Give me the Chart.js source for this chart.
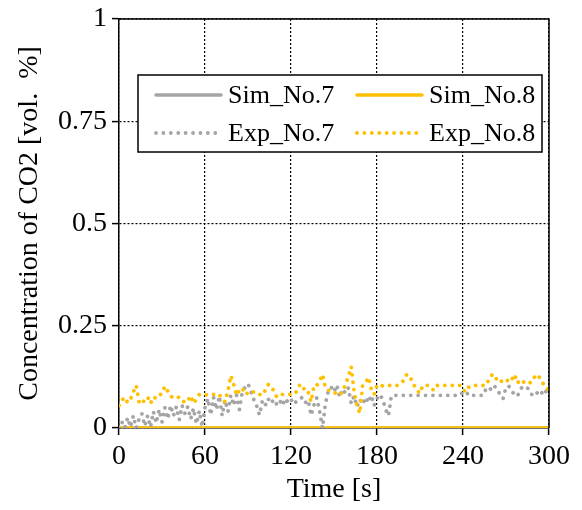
<!DOCTYPE html>
<html>
<head>
<meta charset="utf-8">
<script src="https://cdn.jsdelivr.net/npm/chart.js@4.4.0/dist/chart.umd.min.js"></script>
<style>
  html, body { margin: 0; padding: 0; background: #fff; }
  #wrap { width: 582px; height: 510px; }
</style>
</head>
<body>
<div id="wrap"><canvas id="co2Chart" width="582" height="510"></canvas></div>
<script>
// measurement time axis [s]
const expTime = [
  0, 2, 4, 6, 8, 10, 12, 14, 16, 18,
  20, 22, 24, 26, 28, 30, 32, 34, 36, 38,
  40, 42, 44, 46, 48, 50, 52, 54, 56, 58,
  60, 62, 64, 66, 68, 70, 72, 74, 76, 78,
  80, 82, 84, 86, 88, 90, 92, 94, 96, 98,
  100, 102, 104, 106, 108, 110, 112, 114, 116, 118,
  120, 122, 124, 126, 128, 130, 132, 134, 136, 138,
  140, 142, 144, 146, 148, 150, 152, 154, 156, 158,
  160, 162, 164, 166, 168, 170, 172, 174, 176, 178,
  180, 182, 184, 186, 188, 190, 192, 194, 196, 198,
  200, 202, 204, 206, 208, 210, 212, 214, 216, 218,
  220, 222, 224, 226, 228, 230, 232, 234, 236, 238,
  240, 242, 244, 246, 248, 250, 252, 254, 256, 258,
  260, 262, 264, 266, 268, 270, 272, 274, 276, 278,
  280, 282, 284, 286, 288, 290, 292, 294, 296, 298,
  300
]

// CO2 concentration [vol. %]
const exp7 = [
  0.000, 0.015, 0.000, 0.025, 0.002, 0.030, 0.000, 0.022, 0.035, 0.005,
  0.030, 0.002, 0.040, 0.012, 0.045, 0.015, 0.050, 0.022, 0.055, 0.030,
  0.052, 0.020, 0.055, 0.035, 0.052, 0.022, 0.048, 0.010, 0.042, 0.003,
  0.050, 0.072, 0.032, 0.075, 0.045, 0.078, 0.030, 0.068, 0.040, 0.080,
  0.055, 0.080, 0.045, 0.088, 0.100, 0.108, 0.090, 0.070, 0.055, 0.032,
  0.066, 0.055, 0.072, 0.060, 0.070, 0.058, 0.068, 0.055, 0.072, 0.062,
  0.070, 0.058, 0.066, 0.072, 0.075, 0.062, 0.068, 0.031, 0.056, 0.074,
  0.040, 0.000, 0.060, 0.090, 0.100, 0.088, 0.105, 0.075, 0.095, 0.085,
  0.098, 0.060, 0.078, 0.052, 0.070, 0.058, 0.075, 0.062, 0.080, 0.055,
  0.072, 0.082, 0.070, 0.045, 0.030, 0.078, 0.080, 0.080, 0.080, 0.080,
  0.080, 0.080, 0.080, 0.080, 0.080, 0.080, 0.080, 0.080, 0.080, 0.080,
  0.080, 0.080, 0.080, 0.080, 0.080, 0.080, 0.080, 0.080, 0.080, 0.080,
  0.088, 0.082, 0.086, 0.080, 0.080, 0.080, 0.080, 0.080, 0.095, 0.100,
  0.092, 0.102, 0.095, 0.080, 0.072, 0.100, 0.102, 0.090, 0.082, 0.078,
  0.095, 0.102, 0.100, 0.095, 0.082, 0.090, 0.085, 0.092, 0.080, 0.090,
  0.085
]

const exp8 = [
  0.055, 0.068, 0.075, 0.062, 0.070, 0.088, 0.104, 0.064, 0.058, 0.070,
  0.076, 0.060, 0.076, 0.072, 0.080, 0.084, 0.102, 0.090, 0.078, 0.074,
  0.072, 0.076, 0.068, 0.062, 0.066, 0.079, 0.060, 0.070, 0.082, 0.082,
  0.082, 0.080, 0.082, 0.082, 0.080, 0.082, 0.070, 0.064, 0.090, 0.128,
  0.106, 0.080, 0.092, 0.098, 0.082, 0.086, 0.091, 0.088, 0.082, 0.082,
  0.080, 0.092, 0.106, 0.104, 0.090, 0.076, 0.082, 0.082, 0.082, 0.082,
  0.082, 0.082, 0.090, 0.105, 0.094, 0.098, 0.088, 0.064, 0.104, 0.104,
  0.115, 0.131, 0.098, 0.092, 0.092, 0.088, 0.082, 0.080, 0.090, 0.106,
  0.125, 0.150, 0.090, 0.056, 0.036, 0.104, 0.110, 0.124, 0.095, 0.082,
  0.104, 0.100, 0.104, 0.104, 0.104, 0.104, 0.104, 0.104, 0.110, 0.114,
  0.129, 0.131, 0.118, 0.104, 0.092, 0.085, 0.104, 0.104, 0.104, 0.096,
  0.092, 0.104, 0.104, 0.104, 0.104, 0.104, 0.104, 0.104, 0.104, 0.104,
  0.094, 0.088, 0.100, 0.104, 0.104, 0.104, 0.104, 0.104, 0.104, 0.118,
  0.129, 0.131, 0.114, 0.112, 0.118, 0.120, 0.112, 0.118, 0.131, 0.110,
  0.118, 0.112, 0.115, 0.110, 0.112, 0.125, 0.131, 0.120, 0.108, 0.104,
  0.088
]

const simTime = [0, 300]
const sim7 = [0, 0]
const sim8 = [0, 0]

const xTicks = [0, 60, 120, 180, 240, 300]
const yTicks = [0, 0.25, 0.5, 0.75, 1]

const GRAY = '#a5a5a5'
const GOLD = '#ffc000'
const DOTS = [0.01, 7.4]

const toPoints = (xs, ys) => xs.map((x, i) => ({ x, y: ys[i] }))

Chart.defaults.font.family = '"Liberation Serif", "Times New Roman", serif'
Chart.defaults.color = '#000'

// box around the plot area (top and right edges)
const frame = {
  id: 'frame',
  afterDatasetsDraw(chart) {
    const { ctx, chartArea: a } = chart
    ctx.save()
    ctx.strokeStyle = '#000'
    ctx.lineWidth = 1.5
    ctx.beginPath()
    ctx.moveTo(a.left, a.top)
    ctx.lineTo(a.right, a.top)
    ctx.lineTo(a.right, a.bottom)
    ctx.stroke()
    ctx.restore()
  },
}

// two-column legend drawn inside the plot
const boxLegend = {
  id: 'boxLegend',
  afterDraw(chart) {
    const { ctx } = chart
    const box = { x: 138, y: 75, w: 404, h: 77 }
    ctx.save()
    ctx.fillStyle = '#fff'
    ctx.fillRect(box.x, box.y, box.w, box.h)
    ctx.strokeStyle = '#000'
    ctx.lineWidth = 1.5
    ctx.strokeRect(box.x, box.y, box.w, box.h)

    const cols = [156, 357]
    const rows = [95, 133]
    const slots = { 'Sim_No.7': [0, 0], 'Sim_No.8': [1, 0], 'Exp_No.7': [0, 1], 'Exp_No.8': [1, 1] }
    ctx.font = '26px "Liberation Serif", "Times New Roman", serif'
    ctx.textBaseline = 'middle'
    chart.data.datasets.forEach(ds => {
      const [c, r] = slots[ds.label]
      const x = cols[c]
      const y = rows[r]
      ctx.beginPath()
      ctx.strokeStyle = ds.borderColor
      ctx.lineWidth = ds.borderWidth
      ctx.lineCap = 'round'
      ctx.setLineDash(ds.borderDash || [])
      ctx.moveTo(x, y)
      ctx.lineTo(x + 65, y)
      ctx.stroke()
      ctx.setLineDash([])
      ctx.fillStyle = '#000'
      ctx.fillText(ds.label, x + 72, y + 1)
    })
    ctx.restore()
  },
}

new Chart(document.getElementById('co2Chart'), {
  type: 'line',
  data: {
    datasets: [
      {
        label: 'Sim_No.7',
        data: toPoints(simTime, sim7),
        borderColor: GRAY,
        borderWidth: 3.5,
        pointRadius: 0,
        order: 3,
      },
      {
        label: 'Sim_No.8',
        data: toPoints(simTime, sim8),
        borderColor: GOLD,
        borderWidth: 3.5,
        pointRadius: 0,
        order: 2,
      },
      {
        label: 'Exp_No.7',
        data: toPoints(expTime, exp7),
        borderColor: GRAY,
        borderWidth: 3.8,
        borderDash: DOTS,
        borderCapStyle: 'round',
        pointRadius: 0,
        order: 1,
      },
      {
        label: 'Exp_No.8',
        data: toPoints(expTime, exp8),
        borderColor: GOLD,
        borderWidth: 3.8,
        borderDash: DOTS,
        borderCapStyle: 'round',
        pointRadius: 0,
        order: 0,
      },
    ],
  },
  options: {
    responsive: false,
    animation: false,
    layout: { padding: { top: 16, right: 33, left: 0, bottom: 0 } },
    plugins: {
      legend: { display: false },
      tooltip: { enabled: false },
    },
    scales: {
      x: {
        type: 'linear',
        min: 0,
        max: 300,
        afterBuildTicks: scale => { scale.ticks = xTicks.map(value => ({ value })) },
        afterFit: scale => { scale.height = 82 },
        ticks: { font: { size: 28, lineHeight: 1 }, padding: 8, maxRotation: 0 },
        grid: { color: '#000', lineWidth: 1.2, tickLength: 7, tickColor: '#000', tickWidth: 1.5 },
        border: { color: '#000', width: 1.5, dash: [2, 2] },
        title: { display: true, text: 'Time [s]', font: { size: 28, lineHeight: 1 }, padding: { bottom: 6 } },
      },
      y: {
        min: 0,
        max: 1,
        afterBuildTicks: scale => { scale.ticks = yTicks.map(value => ({ value })) },
        afterFit: scale => { scale.width = 119 },
        ticks: { font: { size: 28, lineHeight: 1 }, padding: 5, callback: v => String(v) },
        grid: { color: '#000', lineWidth: 1.2, tickLength: 7, tickColor: '#000', tickWidth: 1.5 },
        border: { color: '#000', width: 1.5, dash: [2, 2] },
        title: { display: true, text: 'Concentration of CO2 [vol.  %]', font: { size: 28, lineHeight: 1 }, padding: { top: 16 } },
      },
    },
  },
  plugins: [frame, boxLegend],
})
</script>
</body>
</html>
